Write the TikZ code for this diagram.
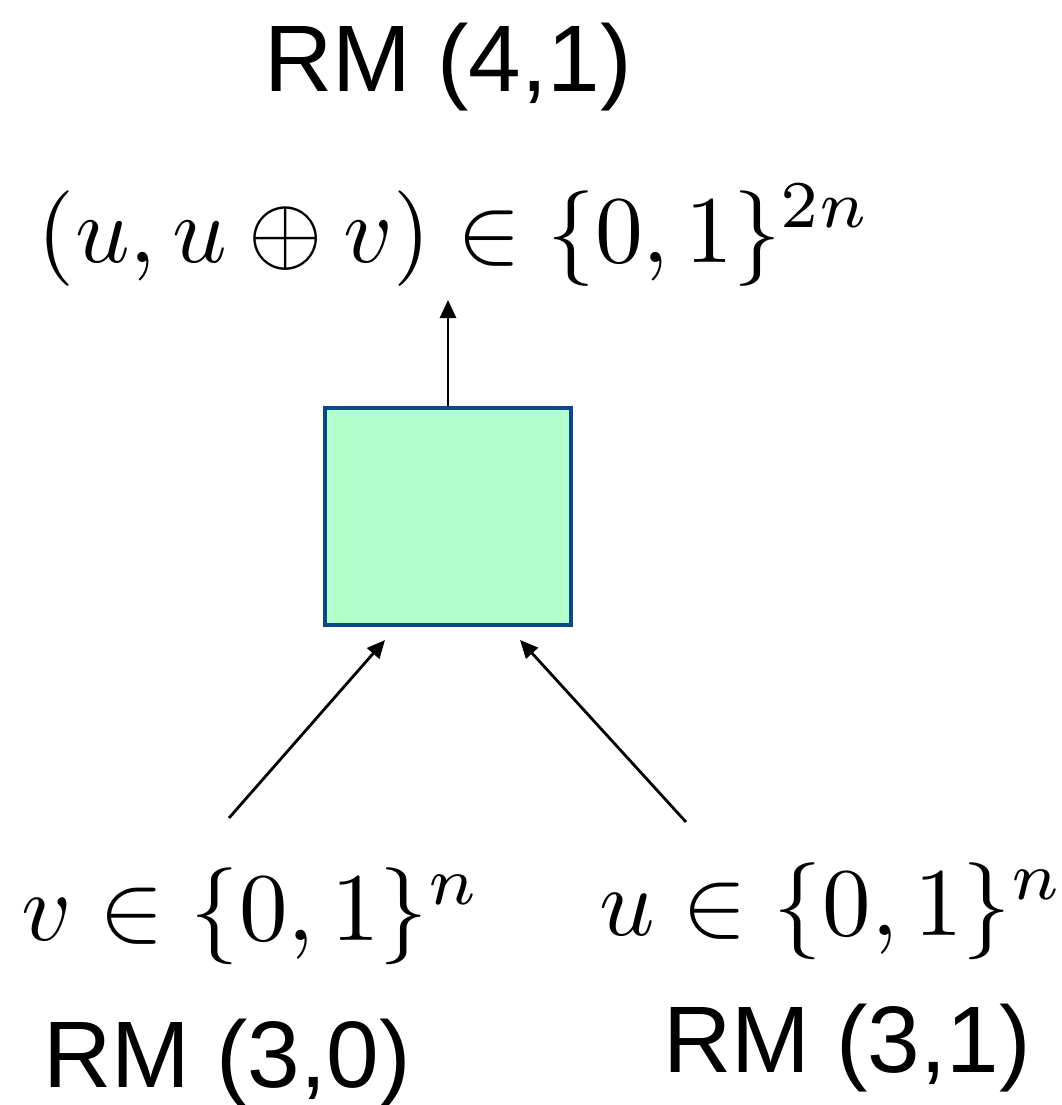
\documentclass[tikz,border=0pt]{standalone}
\usepackage{fontspec}
\newfontfamily\arialf{Liberation Sans}
\usetikzlibrary{arrows.meta}
\definecolor{boxfill}{HTML}{B3FFCC}
\definecolor{boxline}{HTML}{0A4A8C}
\tikzset{
  lbl/.style={font=\arialf, scale=9.45, inner sep=0pt},
  mth/.style={scale=9.7, inner sep=0pt},
  arr/.style={line width=2.8pt, -{Triangle[length=18pt,width=16pt]}},
}
\begin{document}
\begin{tikzpicture}[x=1pt,y=-1pt]
\useasboundingbox (0,0) rectangle (1062,1105);
\node[lbl, anchor=base] (rm41) at (448,92) {RM (4,1)};
\node[mth, scale=0.985, anchor=base west] (top) at (36,262) {$(u,u\oplus v)\in\{0,1\}^{2n}$};
\node[draw=boxline, fill=boxfill, line width=4pt, minimum width=246pt, minimum height=217pt, inner sep=0pt] (box) at (448,516.5) {};
\coordinate (topend) at (448,300);
\coordinate (ls) at (229,818);
\coordinate (le) at (385,640);
\coordinate (rs) at (686,822);
\coordinate (re) at (520,640);
\draw[arr] (box.north) -- (topend);
\draw[arr] (ls) -- (le);
\draw[arr] (rs) -- (re);
\node[mth, anchor=base west] (vin) at (20,940) {$v\in\{0,1\}^n$};
\node[mth, anchor=base west] (uin) at (598,935) {$u\in\{0,1\}^n$};
\node[lbl, anchor=base] (rm30) at (227,1087) {RM (3,0)};
\node[lbl, anchor=base] (rm31) at (847,1072) {RM (3,1)};
\end{tikzpicture}
\end{document}
